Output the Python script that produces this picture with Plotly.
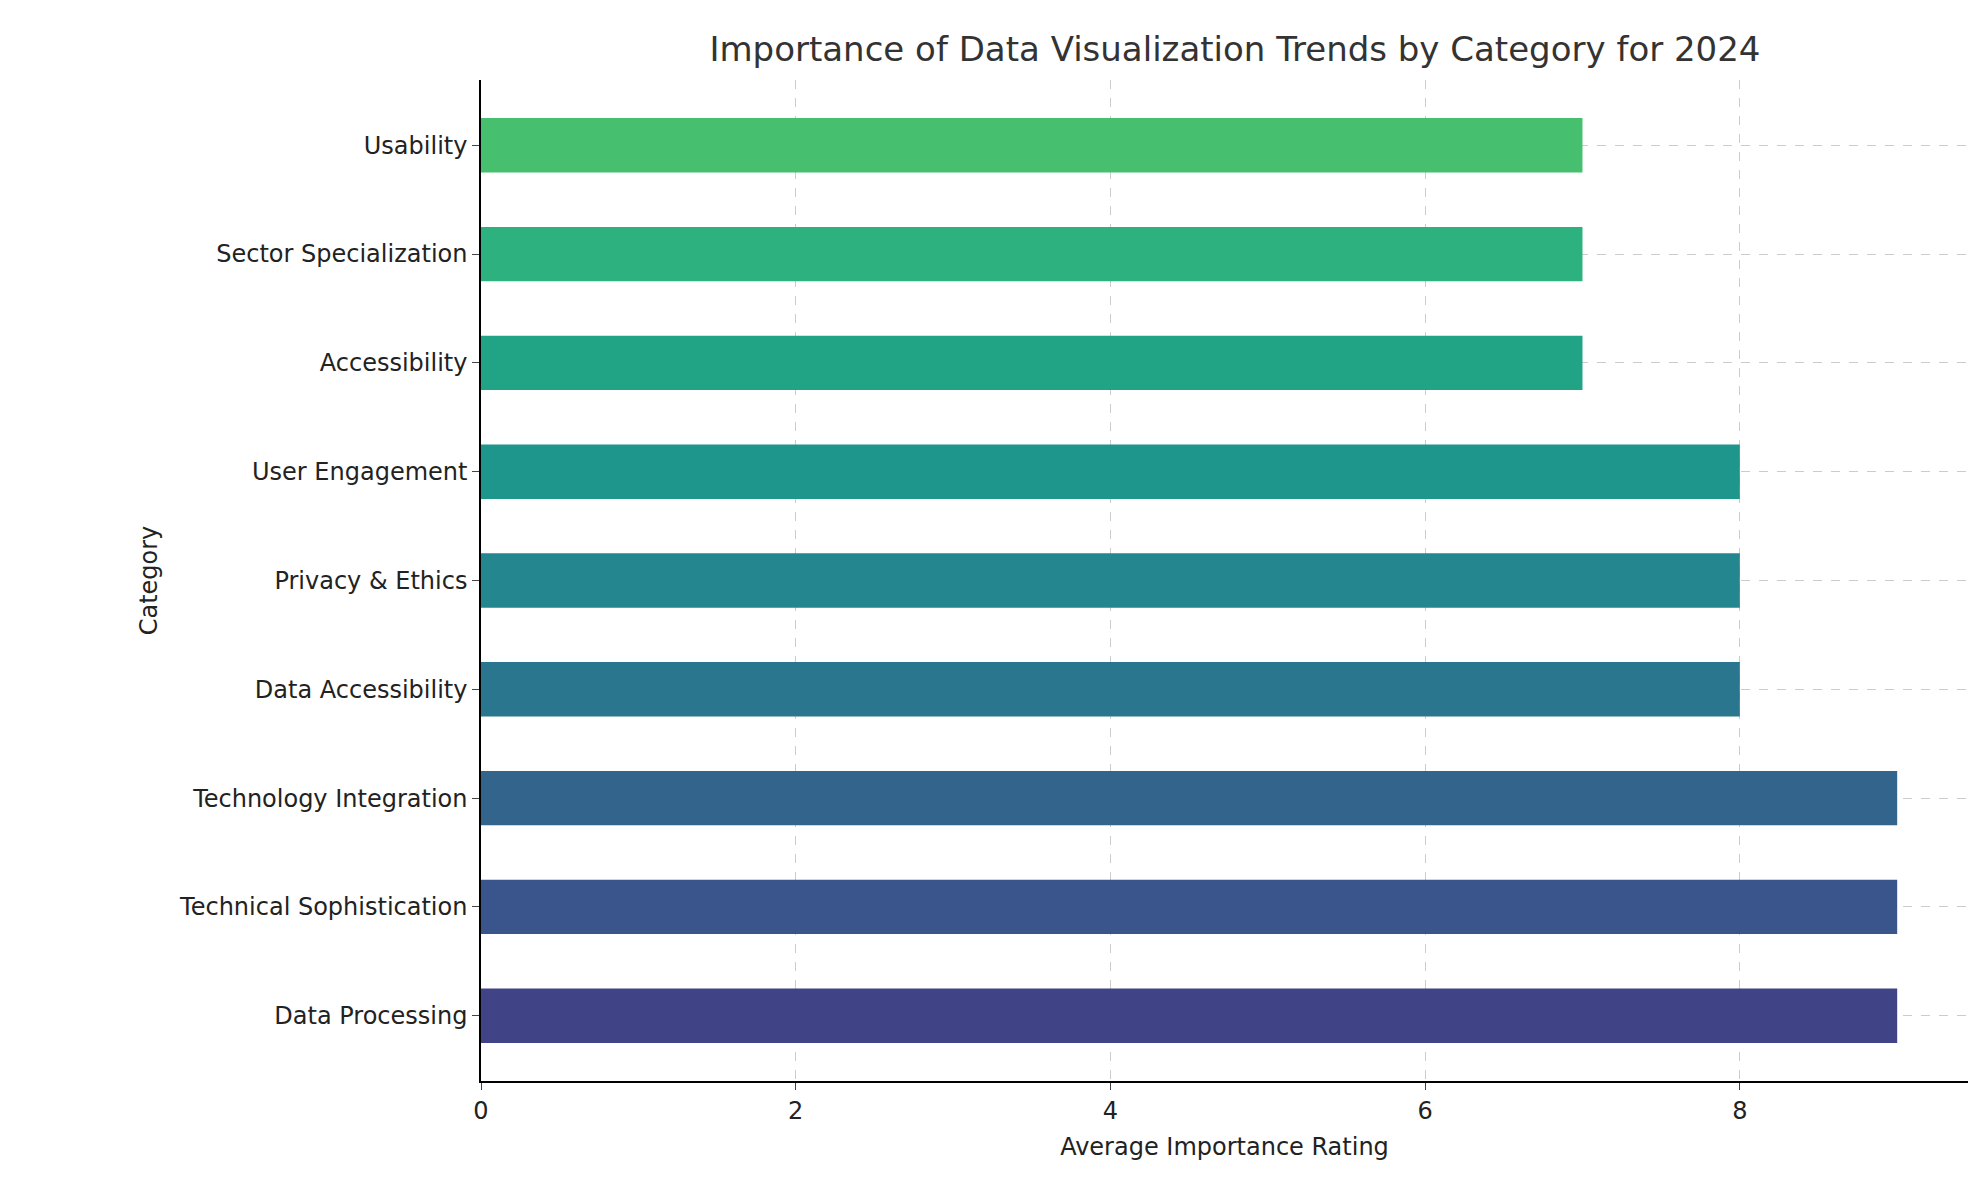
import plotly.graph_objects as go

categories = ["Data Processing", "Technical Sophistication", "Technology Integration",
              "Data Accessibility", "Privacy & Ethics", "User Engagement",
              "Accessibility", "Sector Specialization", "Usability"]
ratings = [9, 9, 9, 8, 8, 8, 7, 7, 7]
colors = ["#404386", "#3a548c", "#33658c", "#2a768e", "#24868e",
          "#1f968b", "#21a386", "#2db17e", "#46c06f"]

fig = go.Figure()
fig.add_trace(go.Bar(x=ratings, y=categories, orientation="h", width=0.5,
                     marker=dict(color=colors, line=dict(width=0))))
grid = dict(showgrid=True, gridcolor="#cccccc", griddash="dash", gridwidth=1)
fig.update_xaxes(title=dict(text="Average Importance Rating", font=dict(size=24)),
                 range=[0, 9.45], dtick=2, ticks="outside", ticklen=7,
                 showline=True, linecolor="black", linewidth=1.5, zeroline=False,
                 tickfont=dict(size=24), **grid)
fig.update_yaxes(title=dict(text="Category", font=dict(size=24)),
                 ticks="outside", ticklen=7, showline=True, linecolor="black",
                 linewidth=1.5, tickfont=dict(size=24), range=[-0.6, 8.6], **grid)
fig.update_layout(
    title=dict(text="Importance of Data Visualization Trends by Category for 2024",
               x=0.62, xanchor="center", y=0.975, font=dict(size=34, color="#333333")),
    font=dict(family="DejaVu Sans", color="#222222"),
    plot_bgcolor="white", paper_bgcolor="white",
    width=1979, height=1180, showlegend=False,
    margin=dict(l=473, r=19, t=72, b=107),
)
fig.write_html("out.html")
